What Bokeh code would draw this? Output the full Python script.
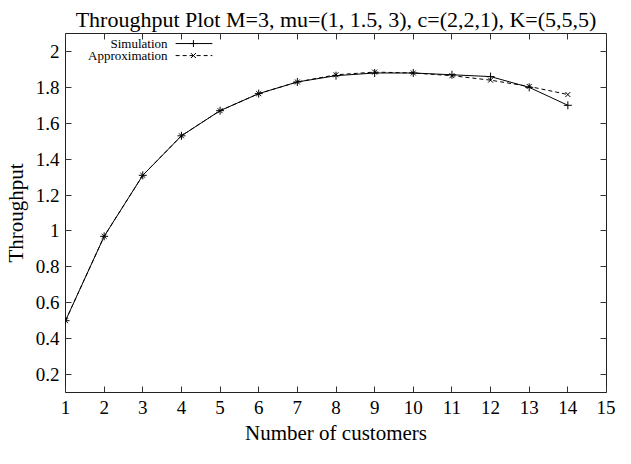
from bokeh.plotting import figure
from bokeh.models import LinearAxis, FixedTicker, Range1d, Label, CustomJSTickFormatter, ColumnDataSource
from bokeh.embed import file_html
from bokeh.resources import INLINE

customers = [1, 2, 3, 4, 5, 6, 7, 8, 9, 10, 11, 12, 13, 14]
simulation = [0.50, 0.97, 1.31, 1.53, 1.67, 1.765, 1.83, 1.865, 1.88, 1.88, 1.87, 1.86, 1.80, 1.70]
approximation = [0.50, 0.97, 1.31, 1.53, 1.67, 1.765, 1.83, 1.87, 1.885, 1.88, 1.865, 1.84, 1.805, 1.76]
x_ticks = list(range(1, 16))
y_ticks = [0.2, 0.4, 0.6, 0.8, 1.0, 1.2, 1.4, 1.6, 1.8, 2.0]
y_labels = {0.2: "0.2", 0.4: "0.4", 0.6: "0.6", 0.8: "0.8", 1.0: "1", 1.2: "1.2",
            1.4: "1.4", 1.6: "1.6", 1.8: "1.8", 2.0: "2"}

FONT = "Liberation Serif"

p = figure(width=615, height=448, output_backend="svg", toolbar_location=None,
           x_range=Range1d(1, 15), y_range=Range1d(0.1, 2.1),
           min_border_left=65, min_border_right=9, min_border_top=33, min_border_bottom=56,
           x_axis_location=None, y_axis_location=None)
p.title.text = "Throughput Plot M=3, mu=(1, 1.5, 3), c=(2,2,1), K=(5,5,5)"
p.title.text_font = FONT
p.title.text_font_size = "22px"
p.title.text_font_style = "normal"
p.title.text_color = "black"
p.title.align = "center"
p.title.offset = 0
p.title.standoff = 4
p.grid.visible = False
p.outline_line_color = "#222222"
p.outline_line_width = 1
p.background_fill_color = "white"
p.border_fill_color = "white"

def style(ax, labels=True):
    ax.major_tick_in = 6
    ax.major_tick_out = 0
    ax.minor_tick_in = 0
    ax.minor_tick_out = 0
    ax.axis_line_color = None
    ax.major_tick_line_color = "#333333"
    ax.major_label_text_font = FONT
    ax.major_label_text_font_size = "19px"
    ax.major_label_text_color = "black"
    ax.axis_label_text_font = FONT
    ax.axis_label_text_font_size = "21px"
    ax.axis_label_text_font_style = "normal"
    ax.axis_label_text_color = "black"
    if not labels:
        ax.formatter = CustomJSTickFormatter(code="return ''")
        ax.major_label_text_font_size = "0px"
        ax.major_label_standoff = 0

xb = LinearAxis(ticker=FixedTicker(ticks=x_ticks), axis_label="Number of customers")
style(xb)
xb.major_label_standoff = 8
xb.axis_label_standoff = 4
yl = LinearAxis(ticker=FixedTicker(ticks=y_ticks), axis_label="Throughput")
style(yl)
yl.major_label_overrides = y_labels
yl.major_label_standoff = 6
yl.axis_label_standoff = 5
xt = LinearAxis(ticker=FixedTicker(ticks=x_ticks))
style(xt, labels=False)
yr = LinearAxis(ticker=FixedTicker(ticks=y_ticks))
style(yr, labels=False)
p.add_layout(xb, "below")
p.add_layout(yl, "left")
p.add_layout(xt, "above")
p.add_layout(yr, "right")

src = ColumnDataSource(dict(x=customers, sim=simulation, app=approximation))
p.line("x", "sim", source=src, line_color="black", line_width=1)
p.scatter("x", "sim", source=src, marker="cross", size=8, line_color="black", line_width=1)
p.line("x", "app", source=src, line_color="black", line_width=1, line_dash="4 3")
p.scatter("x", "app", source=src, marker="x", size=7, line_color="black", line_width=1)

# custom gnuplot-style legend (text left, sample right)
leg_text_x = 3.64
leg_line = (3.85, 4.80)
leg_mark = 4.31
leg_rows = [("Simulation", 2.044, None, "cross"), ("Approximation", 1.977, "4 3", "x")]
for name, yy, dash, mk in leg_rows:
    p.add_layout(Label(x=leg_text_x, y=yy, text=name, text_align="right", text_baseline="middle",
                       text_font=FONT, text_font_size="13px", text_color="black"))
    if dash:
        p.line(list(leg_line), [yy, yy], line_color="black", line_width=1, line_dash=dash)
    else:
        p.line(list(leg_line), [yy, yy], line_color="black", line_width=1)
    p.scatter([leg_mark], [yy], marker=mk, size=7, line_color="black")

open("out.html", "w").write(file_html(p, INLINE))
